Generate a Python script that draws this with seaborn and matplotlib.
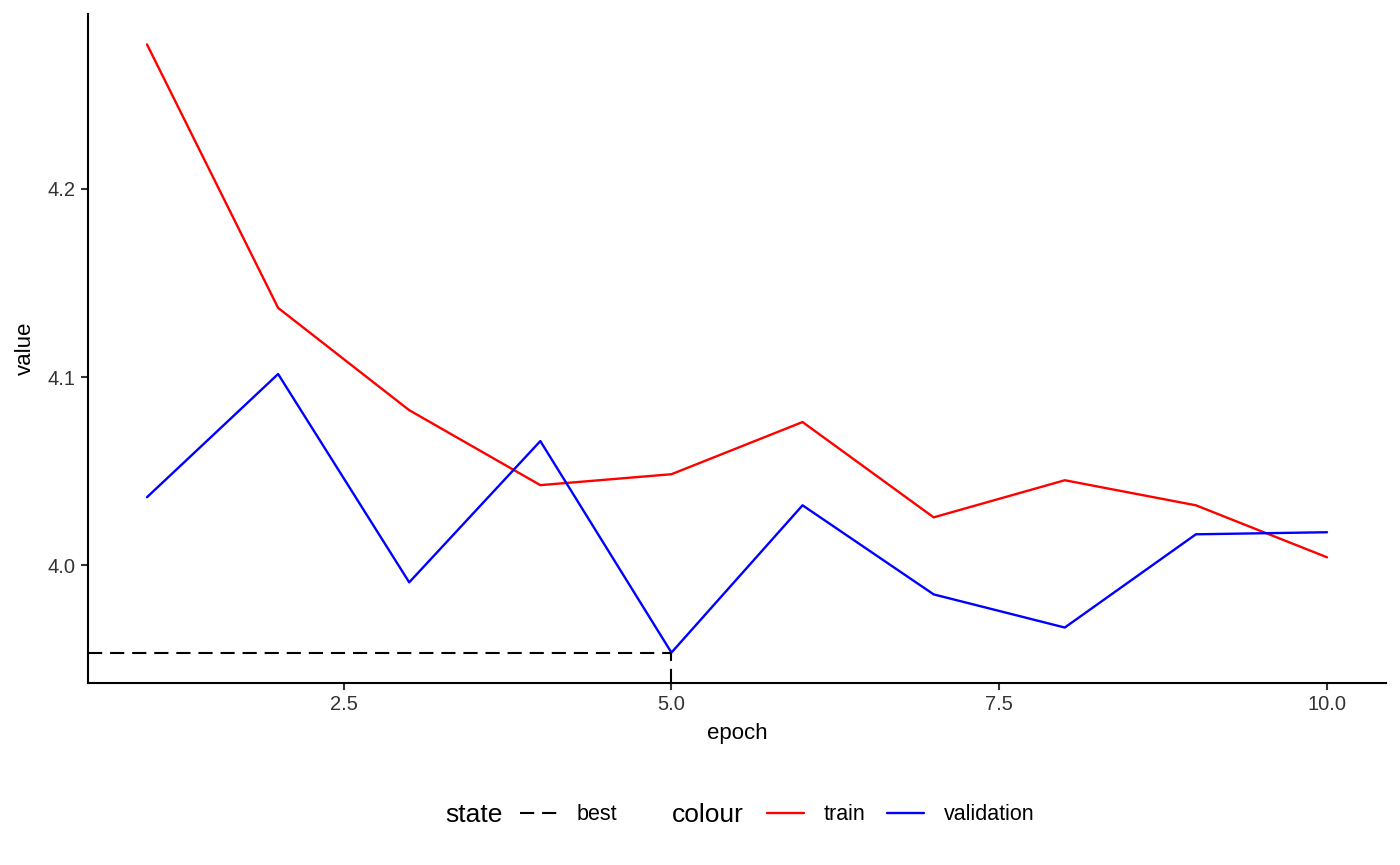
import matplotlib
matplotlib.use('Agg')
import matplotlib.pyplot as plt
from matplotlib.lines import Line2D
import seaborn as sns
import pandas as pd
import numpy as np

# values
epochs = [1, 2, 3, 4, 5, 6, 7, 8, 9, 10]
train_loss = [4.2766, 4.1367, 4.0824, 4.0426, 4.0484, 4.0761, 4.0255, 4.0452, 4.0319, 4.0043]
val_loss = [4.0362, 4.1016, 3.9910, 4.0660, 3.9537, 4.0319, 3.9846, 3.9670, 4.0165, 4.0176]
x_ticks = [2.5, 5.0, 7.5, 10.0]
y_ticks = [4.0, 4.1, 4.2]

df = pd.DataFrame({
    "epoch": epochs * 2,
    "value": train_loss + val_loss,
    "colour": ["train"] * len(epochs) + ["validation"] * len(epochs),
})
palette = {"train": "#FF0000", "validation": "#0000FF"}

sns.set_theme(style="ticks")
plt.rcParams['font.family'] = ['Liberation Sans', 'DejaVu Sans']
plt.rcParams['text.color'] = 'black'

fig = plt.figure(figsize=(14, 8.65), dpi=100)
ax = fig.add_axes([88 / 1400, 1 - 683 / 865, (1386 - 88) / 1400, (683 - 14) / 865])

sns.lineplot(data=df, x="epoch", y="value", hue="colour", palette=palette,
             linewidth=1.7, legend=False, ax=ax)

# ggplot-style 5% expansion
ymin, ymax = min(train_loss + val_loss), max(train_loss + val_loss)
ypad = (ymax - ymin) * 0.05
xpad = (max(epochs) - min(epochs)) * 0.05
ax.set_xlim(min(epochs) - xpad, max(epochs) + xpad)
ax.set_ylim(ymin - ypad, ymax + ypad)

# best epoch marker (dashed)
best_i = int(np.argmin(val_loss))
best_x, best_y = epochs[best_i], val_loss[best_i]
dash = (0, (6.8, 3.8))
ax.plot([ax.get_xlim()[0], best_x], [best_y, best_y], color="black", lw=1.5, linestyle=dash)
ax.plot([best_x, best_x], [ax.get_ylim()[0], best_y], color="black", lw=1.5, linestyle=dash)

ax.set_xticks(x_ticks)
ax.set_xticklabels([f"{t:.1f}" for t in x_ticks])
ax.set_yticks(y_ticks)
ax.set_yticklabels([f"{t:.1f}" for t in y_ticks])
ax.tick_params(axis="both", length=5, width=1.5, color="#333333", labelcolor="#333333",
               labelsize=14.5, pad=4)
for s in ["left", "bottom"]:
    ax.spines[s].set_linewidth(1.5)
    ax.spines[s].set_color("black")
sns.despine(ax=ax)
ax.set_xlabel("epoch", fontsize=16, color="black", labelpad=6)
ax.set_ylabel("value", fontsize=16, color="black", labelpad=8)
ax.set_facecolor("white")
fig.patch.set_facecolor("white")

# legends at the bottom
ly = 1 - 815 / 865
fig.text(445 / 1400, ly, "state", fontsize=19, va="center", ha="left", color="black")
fig.text(672 / 1400, ly, "colour", fontsize=19, va="center", ha="left", color="black")

state_h = [Line2D([], [], color="black", lw=1.5, linestyle=dash)]
leg1 = fig.legend(state_h, ["best"], loc="center left", bbox_to_anchor=(520 / 1400, ly),
                  frameon=False, fontsize=15.5, handlelength=1.72, handletextpad=0.93,
                  borderpad=0, borderaxespad=0, labelcolor="black")
col_h = [Line2D([], [], color=palette["train"], lw=1.7),
         Line2D([], [], color=palette["validation"], lw=1.7)]
leg2 = fig.legend(col_h, ["train", "validation"], loc="center left",
                  bbox_to_anchor=(767 / 1400, ly), ncol=2, frameon=False, fontsize=15.5,
                  handlelength=1.72, handletextpad=0.93, columnspacing=0.98,
                  borderpad=0, borderaxespad=0, labelcolor="black")

fig.savefig("out.png", dpi=100, facecolor="white")
plt.close(fig)
